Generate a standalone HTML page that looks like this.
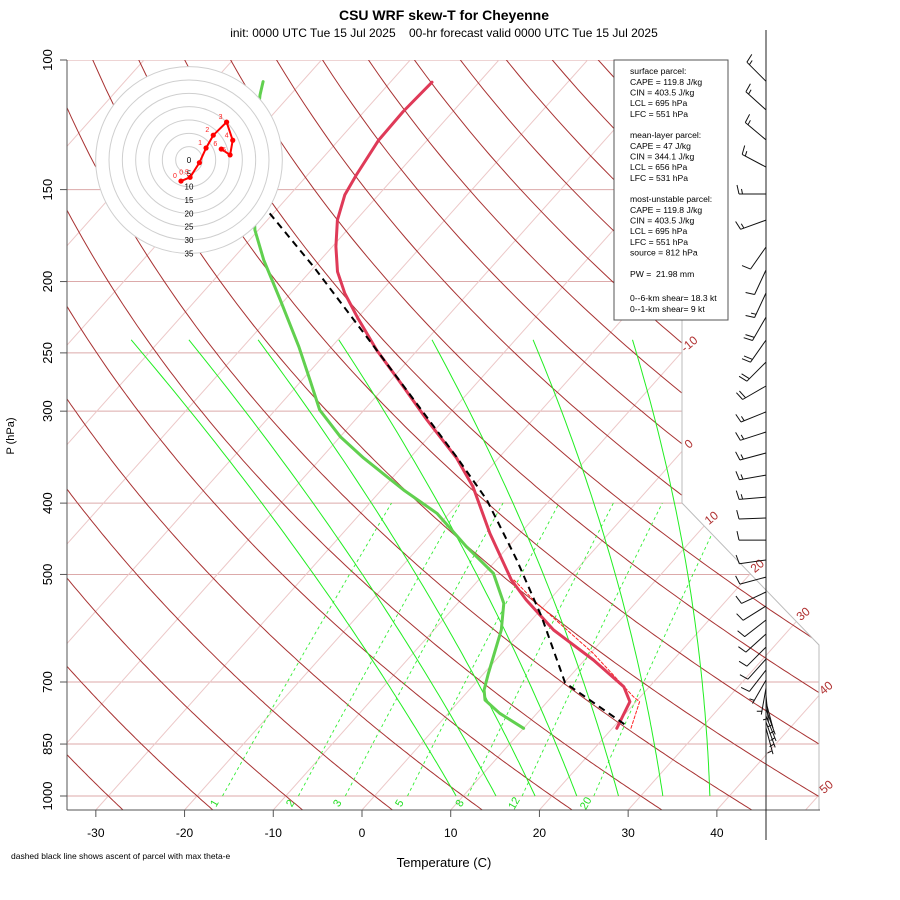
<!DOCTYPE html>
<html><head><meta charset="utf-8"><title>CSU WRF skew-T for Cheyenne</title>
<style>
html,body{margin:0;padding:0;background:#fff;}
svg{display:block;font-family:"Liberation Sans",Arial,sans-serif;}
</style></head>
<body>
<svg id="chart" width="900" height="900" viewBox="0 0 900 900" xmlns="http://www.w3.org/2000/svg">
<defs><clipPath id="plotclip"><polygon points="67,60 682,60 682,503 819,645 819,810 67,810"/></clipPath></defs>
<rect x="0" y="0" width="900" height="900" fill="#fff"/>
<text x="444" y="20" font-size="14" font-weight="bold" text-anchor="middle">CSU WRF skew-T for Cheyenne</text>
<text x="444" y="37" font-size="12" text-anchor="middle" xml:space="preserve">init: 0000 UTC Tue 15 Jul 2025    00-hr forecast valid 0000 UTC Tue 15 Jul 2025</text>
<g id="grid" clip-path="url(#plotclip)"></g>
<g id="gridlabels"></g>
<g id="series"></g>
<g id="hodo"></g>
<g id="axes"></g>
<g id="barbs"></g>
<g>
<rect x="614" y="60" width="114" height="260" fill="#fff" stroke="#555" stroke-width="1"/>
<g font-size="8.6" fill="#000">
<text x="630" y="74">surface parcel:</text>
<text x="630" y="85">CAPE = 119.8 J/kg</text>
<text x="630" y="95.5">CIN = 403.5 J/kg</text>
<text x="630" y="106">LCL = 695 hPa</text>
<text x="630" y="117">LFC = 551 hPa</text>
<text x="630" y="138">mean-layer parcel:</text>
<text x="630" y="149">CAPE = 47 J/kg</text>
<text x="630" y="159.5">CIN = 344.1 J/kg</text>
<text x="630" y="170">LCL = 656 hPa</text>
<text x="630" y="181">LFC = 531 hPa</text>
<text x="630" y="202">most-unstable parcel:</text>
<text x="630" y="213">CAPE = 119.8 J/kg</text>
<text x="630" y="223.5">CIN = 403.5 J/kg</text>
<text x="630" y="234">LCL = 695 hPa</text>
<text x="630" y="245">LFC = 551 hPa</text>
<text x="630" y="255.5">source = 812 hPa</text>
<text x="630" y="277" xml:space="preserve">PW =  21.98 mm</text>
<text x="630" y="301">0--6-km shear= 18.3 kt</text>
<text x="630" y="312">0--1-km shear= 9 kt</text>
</g></g>
<text x="444" y="867" font-size="13" text-anchor="middle">Temperature (C)</text>
<text x="14" y="436" font-size="11" text-anchor="middle" transform="rotate(-90 14 436)">P (hPa)</text>
<text x="11" y="859" font-size="8.5">dashed black line shows ascent of parcel with max theta-e</text>
</svg>
<script>
// ---- data ----
const tempP = [107.2,117.5,128.5,143.3,152.5,165.0,179.3,193.9,207.5,224.4,247.8,277.9,308.4,347.6,380.0,439.7,508.7,541.6,595.0,653.5,710.3,744.5,776.1,809.1];
const tempT = [-65.3,-65.6,-65.5,-64.5,-63.8,-62.1,-59.6,-56.9,-53.9,-49.9,-44.6,-37.9,-31.9,-24.7,-20.0,-13.4,-6.3,-2.6,3.5,11.0,17.1,19.3,19.9,20.5];
const dewP = [107.0,111.6,140.0,170.2,186.9,211.9,245.3,272.2,298.9,324.9,347.5,383.9,412.9,458.4,498.2,547.4,595.0,681.3,717.8,740.6,772.1,809.1];
const dewT = [-84.4,-83.4,-77.0,-70.4,-66.4,-60.5,-53.7,-49.1,-45.0,-40.0,-35.2,-27.5,-21.4,-14.7,-9.0,-4.8,-2.4,0.5,1.7,2.8,5.8,10.0];
const parcelP = [161.6,190.9,247.8,345.9,396.1,477.9,570.7,701.7,805.1];
const parcelT = [-70.4,-60.1,-44.6,-24.9,-17.1,-7.7,0.8,10.1,21.6];
const virtP = [508.7,541.6,640.0,733.0,744.5,813.4];
const virtT = [-6.0,-1.8,10.3,19.2,20.4,22.2];
const barbP = [106.9,116.9,128.4,139.8,152.1,165.0,179.5,192.9,207.3,223.5,240.2,257.3,277.3,300.7,320.2,342.0,366.4,392.5,419.1,449.0,477.9,504.2,528.2,551.8,576.6,602.5,627.6,651.6,674.4,695.8,713.4,729.2,745.3,761.8,778.6,793.4,808.5];
const barbDir = [315,312,310,298,270,250,215,205,205,210,215,225,240,248,252,255,260,265,268,270,262,255,245,238,232,228,225,222,218,210,190,175,165,160,158,160,165];
const barbSpd = [15,15,15,15,15,15,10,10,15,20,20,20,20,15,15,15,15,15,10,10,10,10,10,10,10,10,10,10,10,5,5,5,5,5,5,5,5];
const hodoU = [-3.0,0.4,3.9,6.4,9.1,14.1,16.4,15.4,12.1];
const hodoV = [-7.9,-6.5,-1.0,4.5,9.3,14.2,7.4,1.9,4.1];
const hodoLabels = ["0","0.5","","1","2","3","4","5","6"];
const hodoRings = [5,10,15,20,25,30,35];
const isobars = [1000,850,700,500,400,300,250,200,150,100];
const isoLabelT = [-10,0,10,20,30,40,50];
const xTicks = [-30,-20,-10,0,10,20,30,40];
const mixW = [1,2,3,5,8,12,20];
const moistT0 = [9.2,13.7,18.1,22.8,27.5,32.5,37.8];
const moistTtop = [-73.3,-66.8,-59.0,-49.9,-39.4,-28.0,-16.8];

// ---- axis functions ----
const NS='http://www.w3.org/2000/svg';
function yP(p){return 60+736*Math.log10(p/100);}
function xT(T,p){return 362+8.872*(T+0.10057*(810-yP(p)));}
function mk(tag,attrs,parent){const e=document.createElementNS(NS,tag);for(const k in attrs)e.setAttribute(k,attrs[k]);parent.appendChild(e);return e;}
function pts(arr){return arr.map(a=>a[0].toFixed(1)+','+a[1].toFixed(1)).join(' ');}
const grid=document.getElementById('grid');
const glab=document.getElementById('gridlabels');
const PBOT=1044.8;

// isobars
isobars.forEach(p=>{
  const l=mk('line',{x1:67,x2:830,y1:yP(p),y2:yP(p),stroke:'#dcaaaa','stroke-width':1},grid);
  
  
});
// isotherms
for(let T=-120;T<=50;T+=10){
  const l=mk('line',{x1:xT(T,PBOT),y1:yP(PBOT),x2:xT(T,100),y2:yP(100),stroke:'#ecc8c8','stroke-width':1},grid);
  
  
}
// dry adiabats
for(let th=-30;th<=180;th+=10){
  const a=[];
  for(let p=PBOT;p>=99;p-=5){a.push([xT((th+273.15)*Math.pow(p/1000,0.2857)-273.15,p),yP(p)]);}
  const l=mk('polyline',{points:pts(a),fill:'none',stroke:'#a83232','stroke-width':1},grid);
  
  
}
// mixing ratio lines
mixW.forEach(w=>{
  const a=[];
  for(let p=1000;p>=400;p-=10){const e=w*p/(622+w);const L=Math.log(e/6.112);a.push([xT(243.5*L/(17.67-L),p),yP(p)]);}
  const l=mk('polyline',{points:pts(a),fill:'none',stroke:'#33ee33','stroke-width':0.9,'stroke-dasharray':'3,3'},grid);
  
  
  const x=a[0][0]-5, y=805;
  const t=mk('text',{x:x,y:y,'font-size':11,fill:'#22dd22','text-anchor':'middle',transform:'rotate(-60 '+x+' '+y+')'},glab);
  t.textContent=w;
  
  
});
// moist adiabats
const yb=yP(1000), yt=yP(240);
moistT0.forEach((T0,i)=>{
  const a=[];
  for(let p=1000;p>=240;p-=10){const f=(yb-yP(p))/(yb-yt);a.push([xT(T0+(moistTtop[i]-T0)*f+7*f*(1-f),p),yP(p)]);}
  const l=mk('polyline',{points:pts(a),fill:'none',stroke:'#22ee22','stroke-width':1},grid);
  
  
});
// boundary outline (upper right)
const bnd=mk('polyline',{points:'682,60 682,503 819,645 819,810',fill:'none',stroke:'#bbb','stroke-width':1},glab);


function bx(y){return y<503?682:(y<645?682+(y-503)*137/142:819);}
isoLabelT.forEach(T=>{
  let y=810;
  while(y>60){const p=100*Math.pow(10,(y-60)/736);if(xT(T,p)>bx(y))break;y-=1;}
  const p=100*Math.pow(10,(y-60)/736);const x=xT(T,p)+9, yy=y-4;
  const t=mk('text',{x:x,y:yy,'font-size':12,fill:'#b03030','text-anchor':'middle',transform:'rotate(-40 '+x+' '+yy+')'},glab);
  t.textContent=T;
  
  
});

// ---- series ----
const ser=document.getElementById('series');
function line(P,T,attrs,name){
  const a=P.map((p,i)=>[xT(T[i],p),yP(p)]);
  const l=mk('polyline',Object.assign({points:pts(a),fill:'none','stroke-linejoin':'round','stroke-linecap':'round'},attrs),ser);
  
  
}
line(dewP,dewT,{stroke:'#61d04f','stroke-width':3},'dewpoint-line');
line(virtP,virtT,{stroke:'#ff2020','stroke-width':1,'stroke-dasharray':'3,2'},'virtual-temperature-line');
line(tempP,tempT,{stroke:'#df3a58','stroke-width':3},'temperature-line');
line(parcelP,parcelT,{stroke:'#000','stroke-width':2,'stroke-dasharray':'7,5','stroke-linecap':'butt'},'parcel-ascent-line');

// ---- hodograph ----
const hg=document.getElementById('hodo');
const hcx=189,hcy=160,hs=2.667;
mk('circle',{cx:hcx,cy:hcy,r:35*hs,fill:'#fff',stroke:'none'},hg);
hodoRings.forEach(r=>{
  const c=mk('circle',{cx:hcx,cy:hcy,r:r*hs,fill:'none',stroke:'#cfcfcf','stroke-width':1},hg);
  
  
  const t=mk('text',{x:hcx,y:hcy+r*hs+3,'font-size':8,'text-anchor':'middle',fill:'#000'},hg);
  t.textContent=r;
});
const zt=mk('text',{x:hcx,y:hcy+3,'font-size':8,'text-anchor':'middle'},hg);zt.textContent='0';
const hpts=hodoU.map((u,i)=>[hcx+u*hs,hcy-hodoV[i]*hs]);
const hl=mk('polyline',{points:pts(hpts),fill:'none',stroke:'#ff0000','stroke-width':2},hg);


hpts.forEach((q,i)=>{
  const c=mk('circle',{cx:q[0],cy:q[1],r:2.6,fill:'#ff0000'},hg);
  
  
  if(hodoLabels[i]){const t=mk('text',{x:q[0]-6,y:q[1]-3,'font-size':7,fill:'#ff2020','text-anchor':'middle'},hg);t.textContent=hodoLabels[i];}
});

// ---- axes ----
const ax=document.getElementById('axes');
mk('line',{x1:67,y1:60,x2:67,y2:810,stroke:'#555','stroke-width':1},ax);
mk('line',{x1:67,y1:810,x2:820,y2:810,stroke:'#555','stroke-width':1},ax);
isobars.forEach(p=>{
  const y=yP(p);
  mk('line',{x1:60,y1:y,x2:67,y2:y,stroke:'#555'},ax);
  const t=mk('text',{x:52,y:y,'font-size':13,'text-anchor':'middle',transform:'rotate(-90 52 '+y+')'},ax);
  t.textContent=p;
  
  
});
xTicks.forEach(T=>{
  const x=xT(T,PBOT);
  mk('line',{x1:x,y1:810,x2:x,y2:817,stroke:'#555'},ax);
  const t=mk('text',{x:x,y:837,'font-size':12,'text-anchor':'middle'},ax);
  t.textContent=T;
  
  
});

// ---- wind barbs ----
const bg=document.getElementById('barbs');
mk('line',{x1:766,y1:30,x2:766,y2:840,stroke:'#222','stroke-width':1},bg);
barbP.forEach((p,i)=>{
  const y=yP(p), d=barbDir[i]*Math.PI/180, L=27;
  const sx=Math.sin(d), sy=-Math.cos(d);
  const tx=766+sx*L, ty=y+sy*L;
  const fx=-sy, fy=sx;
  let path='M766 '+y.toFixed(1)+' L'+tx.toFixed(1)+' '+ty.toFixed(1);
  let s=barbSpd[i], pos=0;
  const full=Math.floor(s/10), half=(s%10)>=5;
  for(let k=0;k<full;k++){const bxp=tx-sx*pos,byp=ty-sy*pos;path+=' M'+bxp.toFixed(1)+' '+byp.toFixed(1)+' l'+(fx*9+sx*2).toFixed(1)+' '+(fy*9+sy*2).toFixed(1);pos+=3.5;}
  if(half){if(full===0)pos=3.5;const bxp=tx-sx*pos,byp=ty-sy*pos;path+=' M'+bxp.toFixed(1)+' '+byp.toFixed(1)+' l'+(fx*5+sx*1).toFixed(1)+' '+(fy*5+sy*1).toFixed(1);}
  const b=mk('path',{d:path,fill:'none',stroke:'#111','stroke-width':1},bg);
  
  
});
</script>
</body></html>
